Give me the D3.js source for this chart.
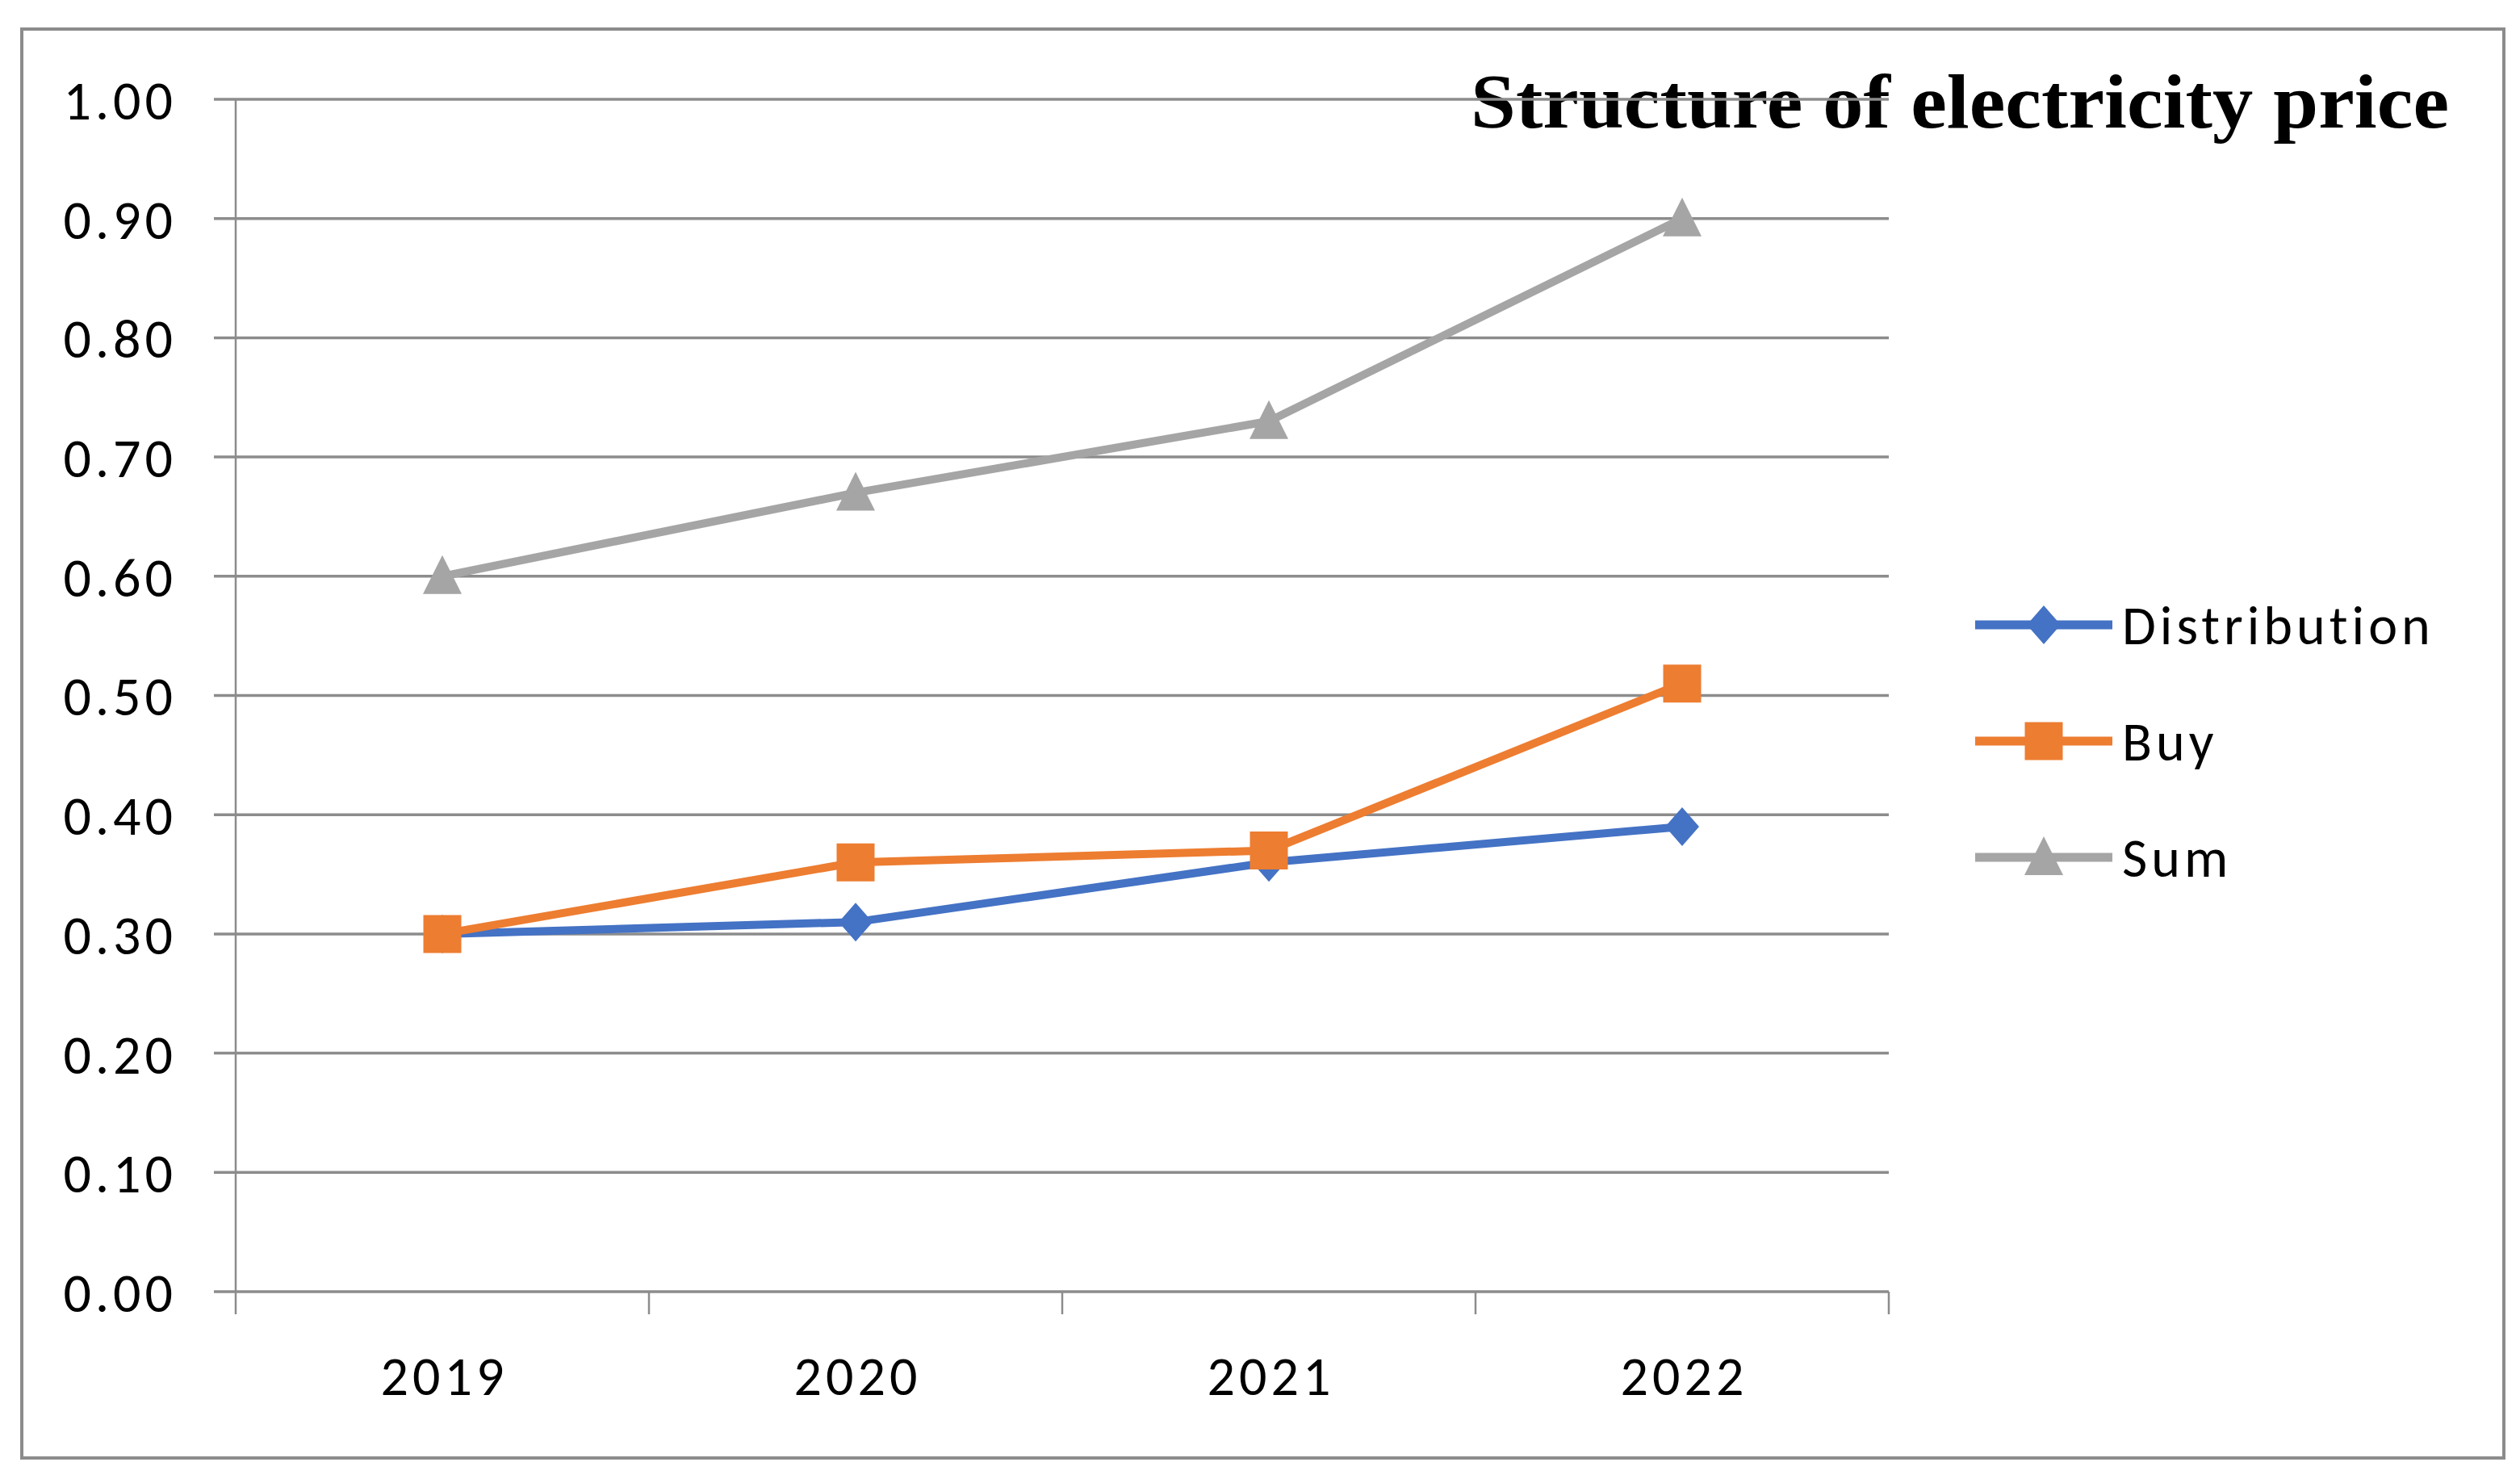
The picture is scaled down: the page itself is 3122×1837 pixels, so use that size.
<!DOCTYPE html>
<html lang="en">
<head>
    <meta charset="UTF-8">
    <title>Structure of electricity price</title>
    <script src="https://d3js.org/d3.v7.min.js"></script>
    <style>
        body {margin: 0; background: #fff;}
        .axisText text {font-family: Carlito, Lato, sans-serif; font-size: 68px; letter-spacing: 5px; fill: #000;}
    </style>
</head>
<body>
    <div id="chart"></div>

<script>
// Data
var years = ["2019", "2020", "2021", "2022"];
var distribution = [0.30, 0.31, 0.36, 0.39];
var buy = [0.30, 0.36, 0.37, 0.51];
var sum = [0.60, 0.67, 0.73, 0.90];
var seriesNames = ["Distribution", "Buy", "Sum"];
var yTicks = [0, 0.1, 0.2, 0.3, 0.4, 0.5, 0.6, 0.7, 0.8, 0.9, 1.0];

var width = 3122;
var height = 1837;
var colors = ["#4472C4", "#ED7D31", "#A5A5A5"];
var gridColor = "#8c8c8c";

var svg = d3.select("#chart").append("svg")
    .attr("width", width)
    .attr("height", height);

// Outer frame
svg.append("rect")
    .attr("x", 27).attr("y", 36)
    .attr("width", 3102 - 27).attr("height", 1806 - 36)
    .attr("fill", "#fff")
    .attr("stroke", gridColor)
    .attr("stroke-width", 4);

// Scales
var xScale = d3.scaleBand()
    .domain(years)
    .range([292, 2340]);

var yScale = d3.scaleLinear()
    .domain([0, 1])
    .range([1600, 123]);

function xPos(year) {
    return xScale(year) + xScale.bandwidth() / 2;
}

// Title (gridline runs through it like the original)
svg.append("text")
    .attr("x", 1822)
    .attr("y", 158)
    .attr("font-family", "'Book Antiqua', Palatino, 'Liberation Serif', serif")
    .attr("font-weight", "bold")
    .attr("font-size", "95px")
    .attr("textLength", 1212)
    .attr("lengthAdjust", "spacingAndGlyphs")
    .text("Structure of electricity price");

// Horizontal gridlines
svg.append("g")
    .selectAll("line")
    .data(yTicks)
    .enter()
    .append("line")
        .attr("x1", 265)
        .attr("x2", 2340)
        .attr("y1", function(d){ return yScale(d); })
        .attr("y2", function(d){ return yScale(d); })
        .attr("stroke", gridColor)
        .attr("stroke-width", 3.5);

// Y axis labels
var yAxis = d3.axisLeft(yScale)
    .tickValues(yTicks)
    .tickFormat(d3.format(".2f"))
    .tickSize(0)
    .tickPadding(73);

svg.append("g")
    .attr("class", "axisText")
    .attr("transform", "translate(292,0)")
    .call(yAxis)
    .call(function(g){ g.select(".domain").remove(); })
    .selectAll("text")
        .attr("dy", "0.36em");

// Y axis line
svg.append("line")
    .attr("x1", 292).attr("x2", 292)
    .attr("y1", yScale(1)).attr("y2", yScale(0))
    .attr("stroke", gridColor)
    .attr("stroke-width", 2.5);

// X axis tick marks at category boundaries
var boundaries = years.map(function(d){ return xScale(d); }).concat([xScale.range()[1]]);
svg.append("g")
    .selectAll("line")
    .data(boundaries)
    .enter()
    .append("line")
        .attr("x1", function(d){ return d; })
        .attr("x2", function(d){ return d; })
        .attr("y1", yScale(0))
        .attr("y2", yScale(0) + 28)
        .attr("stroke", gridColor)
        .attr("stroke-width", 2.5);

// X axis labels
var xAxis = d3.axisBottom(xScale)
    .tickSize(0)
    .tickPadding(80);

svg.append("g")
    .attr("class", "axisText")
    .attr("transform", "translate(2.5," + yScale(0) + ")")
    .call(xAxis)
    .call(function(g){ g.select(".domain").remove(); });

// Marker shapes
function markerPath(kind, cx, cy) {
    if (kind === 0) {
        // diamond
        return "M" + cx + "," + (cy - 24) + "L" + (cx + 21) + "," + cy +
               "L" + cx + "," + (cy + 24) + "L" + (cx - 21) + "," + cy + "Z";
    } else if (kind === 1) {
        // square
        return "M" + (cx - 23.5) + "," + (cy - 23.5) + "h47v47h-47Z";
    }
    // triangle
    return "M" + cx + "," + (cy - 26) + "L" + (cx + 24) + "," + (cy + 22) +
           "L" + (cx - 24) + "," + (cy + 22) + "Z";
}

var allSeries = [distribution, buy, sum];

var line = d3.line()
    .x(function(d, i){ return xPos(years[i]); })
    .y(function(d){ return yScale(d); });

allSeries.forEach(function(values, s){
    svg.append("path")
        .datum(values)
        .attr("d", line)
        .attr("fill", "none")
        .attr("stroke", colors[s])
        .attr("stroke-width", 10)
        .attr("stroke-linejoin", "round")
        .attr("stroke-linecap", "round");

    svg.append("g")
        .selectAll("path")
        .data(values)
        .enter()
        .append("path")
            .attr("d", function(d, i){ return markerPath(s, xPos(years[i]), yScale(d)); })
            .attr("fill", colors[s]);
});

// Legend
var legendY = [774, 918, 1062];
var legend = svg.append("g");

seriesNames.forEach(function(name, s){
    legend.append("line")
        .attr("x1", 2447).attr("x2", 2617)
        .attr("y1", legendY[s]).attr("y2", legendY[s])
        .attr("stroke", colors[s])
        .attr("stroke-width", 11);
    legend.append("path")
        .attr("d", markerPath(s, 2532, legendY[s]))
        .attr("fill", colors[s]);
    legend.append("text")
        .attr("x", 2629)
        .attr("y", legendY[s])
        .attr("dy", "0.36em")
        .attr("font-family", "Carlito, Lato, sans-serif")
        .attr("font-size", "68px")
        .attr("letter-spacing", "5px")
        .text(name);
});
</script>
</body>
</html>
